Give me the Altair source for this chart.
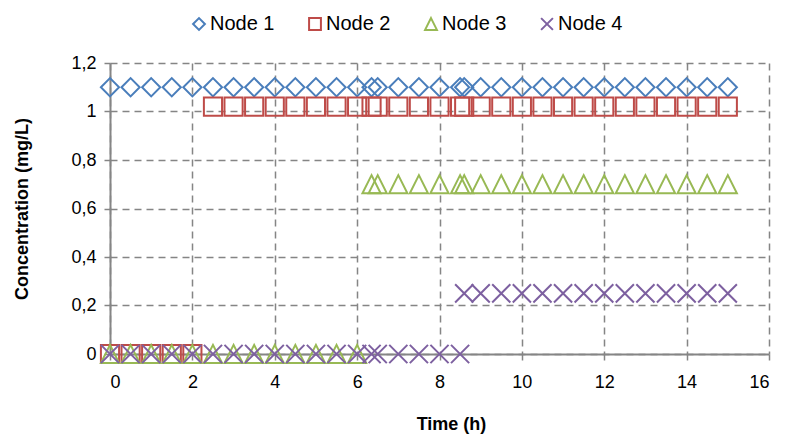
import altair as alt
import pandas as pd

# ---- data ----
nodes = ["Node 1", "Node 2", "Node 3", "Node 4"]
colors = ["#4A7EBB", "#BE4B48", "#98B954", "#7D60A0"]

time_h = [0, 0.5, 1, 1.5, 2, 2.5, 3, 3.5, 4, 4.5, 5, 5.5, 6, 6.35, 6.5, 7, 7.5,
          8, 8.5, 8.6, 9, 9.5, 10, 10.5, 11, 11.5, 12, 12.5, 13, 13.5, 14, 14.5, 15]

node1 = [1.1, 1.1, 1.1, 1.1, 1.1, 1.1, 1.1, 1.1, 1.1, 1.1, 1.1, 1.1, 1.1, 1.1, 1.1, 1.1, 1.1,
         1.1, 1.1, 1.1, 1.1, 1.1, 1.1, 1.1, 1.1, 1.1, 1.1, 1.1, 1.1, 1.1, 1.1, 1.1, 1.1]
node2 = [0, 0, 0, 0, 0, 1.02, 1.02, 1.02, 1.02, 1.02, 1.02, 1.02, 1.02, 1.02, 1.02, 1.02, 1.02,
         1.02, 1.02, 1.02, 1.02, 1.02, 1.02, 1.02, 1.02, 1.02, 1.02, 1.02, 1.02, 1.02, 1.02, 1.02, 1.02]
node3 = [0, 0, 0, 0, 0, 0, 0, 0, 0, 0, 0, 0, 0, 0.7, 0.7, 0.7, 0.7,
         0.7, 0.7, 0.7, 0.7, 0.7, 0.7, 0.7, 0.7, 0.7, 0.7, 0.7, 0.7, 0.7, 0.7, 0.7, 0.7]
node4 = [0, 0, 0, 0, 0, 0, 0, 0, 0, 0, 0, 0, 0, 0, 0, 0, 0,
         0, 0, 0.25, 0.25, 0.25, 0.25, 0.25, 0.25, 0.25, 0.25, 0.25, 0.25, 0.25, 0.25, 0.25, 0.25]

x_ticks = [0, 2, 4, 6, 8, 10, 12, 14, 16]
y_ticks = [0, 0.2, 0.4, 0.6, 0.8, 1.0, 1.2]

series = [node1, node2, node3, node4]
rows = []
for name, vals in zip(nodes, series):
    for t, v in zip(time_h, vals):
        rows.append({"t": t, "c": v, "node": name})
df = pd.DataFrame(rows)

shapes = ["diamond", "square", "M0,-1L1,1L-1,1Z", "M-1,-1L1,1M-1,1L1,-1"]

FONT = "Liberation Sans"
GRID = "#858585"

legend = alt.Legend(
    title=None, orient="none", direction="horizontal",
    legendX=79, legendY=-49,
    labelFontSize=20, labelFont=FONT, labelColor="black",
    symbolSize=140, symbolStrokeWidth=2, labelOffset=1, columnPadding=30,
)

chart = alt.Chart(df).mark_point(filled=False, strokeWidth=2, opacity=1, size=330).encode(
    x=alt.X("t:Q", scale=alt.Scale(domain=[0, 16], nice=False, zero=False),
            axis=alt.Axis(values=x_ticks, title="Time (h)", format="d",
                          grid=True, gridDash=[7, 5], gridColor=GRID, gridWidth=1.5,
                          domainColor=GRID, domainWidth=2, tickColor=GRID, tickWidth=1.5,
                          tickSize=6, labelFontSize=18, labelColor="black", labelPadding=13,
                          titleFontSize=18, titleFontWeight="bold", titleColor="black",
                          titleX=341, titleY=70, titleBaseline="middle")),
    y=alt.Y("c:Q", scale=alt.Scale(domain=[0, 1.2], nice=False),
            axis=alt.Axis(values=y_ticks, title="Concentration (mg/L)",
                          labelExpr="replace(format(datum.value, '.1~f'), '.', ',')",
                          grid=True, gridDash=[7, 5], gridColor=GRID, gridWidth=1.5,
                          domainColor=GRID, domainWidth=2, tickColor=GRID, tickWidth=1.5,
                          tickSize=6, labelFontSize=18, labelColor="black", labelPadding=8,
                          titleFontSize=18, titleFontWeight="bold", titleColor="black",
                          titleX=-88, titleY=145.5, titleAngle=-90, titleBaseline="middle")),
    color=alt.Color("node:N", scale=alt.Scale(domain=nodes, range=colors), legend=legend),
    shape=alt.Shape("node:N", scale=alt.Scale(domain=nodes, range=shapes), legend=legend),
).properties(
    width=659, height=291,
    autosize=alt.AutoSizeParams(type="none"),
    padding={"left": 102, "top": 55, "right": 8, "bottom": 84},
).configure(font=FONT).configure_view(stroke=None)

chart.save("out.html", embed_options={"renderer": "svg", "actions": False})
